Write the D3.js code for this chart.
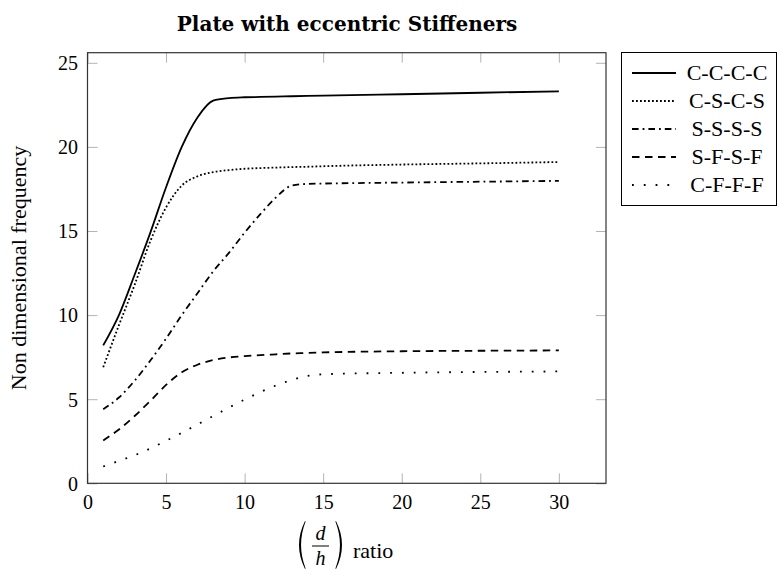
<!DOCTYPE html>
<html><head><meta charset="utf-8">
<script src="https://cdn.jsdelivr.net/npm/d3@7"></script>
<style>body{margin:0;background:#fff} svg{display:block}</style>
</head><body><svg id="c" width="778" height="580"></svg>
<script>
// ---- data ----
const xValues   = [1, 2, 3, 4, 5, 6, 7, 8, 9, 10, 11, 12, 13, 14, 15, 20, 25, 30];
const ccccValues = [8.2, 10.0, 12.4, 14.9, 17.6, 20.0, 21.75, 22.75, 22.9, 22.95, 22.97, 22.99, 23.01, 23.03, 23.05, 23.13, 23.22, 23.3];
const cscsValues = [6.9, 9.4, 11.8, 14.4, 16.4, 17.7, 18.25, 18.5, 18.62, 18.7, 18.74, 18.77, 18.8, 18.82, 18.85, 18.95, 19.02, 19.1];
const ssssValues = [4.4, 5.1, 6.1, 7.3, 8.6, 10.0, 11.3, 12.6, 13.7, 14.9, 16.0, 17.0, 17.7, 17.8, 17.82, 17.88, 17.93, 17.98];
const sfsfValues = [2.55, 3.2, 4.0, 4.9, 5.85, 6.6, 7.05, 7.33, 7.48, 7.56, 7.62, 7.67, 7.72, 7.75, 7.78, 7.85, 7.88, 7.9];
const cfffValues = [1.0, 1.33, 1.67, 2.07, 2.53, 3.0, 3.5, 4.0, 4.5, 4.98, 5.42, 5.82, 6.14, 6.38, 6.48, 6.57, 6.62, 6.65];
const seriesNames = ["C-C-C-C", "C-S-C-S", "S-S-S-S", "S-F-S-F", "C-F-F-F"];
const seriesValues = [ccccValues, cscsValues, ssssValues, sfsfValues, cfffValues];
const xTickValues = [0, 5, 10, 15, 20, 25, 30];
const yTickValues = [0, 5, 10, 15, 20, 25];
const titleText = "Plate with eccentric Stiffeners";
const yLabelText = "Non dimensional frequency";
const xLabelWord = "ratio";

// ---- styles ----
const dashStyles = ["none", "1.8,2.2", "6.6,4,1.8,4", "7.5,5.5", "1.8,10"];
const serif = "'Liberation Serif', 'Times New Roman', serif";

const svg = d3.select("#c");
const L = 87.5, R = 606, T = 52.7, B = 483.3;
const x = d3.scaleLinear().domain([0, 33]).range([L, R]);
const y = d3.scaleLinear().domain([0, 25.6]).range([B, T]);

// title
svg.append("text").attr("x", 347).attr("y", 31).attr("text-anchor", "middle")
  .style("font-family", "'DejaVu Serif', serif").style("font-weight", "bold").style("font-size", "20px")
  .text(titleText);

// axes (ticks inward, gray)
function styleAxis(g) {
  g.select(".domain").remove();
  g.selectAll(".tick line").attr("stroke", "#b3b3b3").attr("stroke-width", 1);
  g.selectAll(".tick text").style("font-family", serif).style("font-size", "20px").attr("fill", "#000");
}
const gx = svg.append("g").attr("transform", `translate(0,${B})`)
  .call(d3.axisBottom(x).tickValues(xTickValues).tickSize(-10).tickPadding(12).tickFormat(d3.format("d")));
styleAxis(gx);
const gxt = svg.append("g").attr("transform", `translate(0,${T})`)
  .call(d3.axisTop(x).tickValues(xTickValues).tickSize(-10).tickFormat(""));
styleAxis(gxt);
const gy = svg.append("g").attr("transform", `translate(${L},0)`)
  .call(d3.axisLeft(y).tickValues(yTickValues).tickSize(-10).tickPadding(9.5).tickFormat(d3.format("d")));
styleAxis(gy);
gy.selectAll(".tick text").attr("dy", "0.34em");
const gyr = svg.append("g").attr("transform", `translate(${R},0)`)
  .call(d3.axisRight(y).tickValues(yTickValues).tickSize(-10).tickFormat(""));
styleAxis(gyr);

// frame
svg.append("rect").attr("x", L).attr("y", T).attr("width", R - L).attr("height", B - T)
  .attr("fill", "none").attr("stroke", "#333").attr("stroke-width", 1.2);

// lines
const line = d3.line().x((d, i) => x(xValues[i])).y(d => y(d)).curve(d3.curveMonotoneX);
seriesValues.forEach((vals, k) => {
  svg.append("path").attr("d", line(vals)).attr("fill", "none").attr("stroke", "#000")
    .attr("stroke-width", 1.8).attr("stroke-dasharray", dashStyles[k]);
});

// legend
const lg = svg.append("g");
lg.append("rect").attr("x", 621.5).attr("y", 52.5).attr("width", 155).attr("height", 153)
  .attr("fill", "#fff").attr("stroke", "#000").attr("stroke-width", 1);
seriesNames.forEach((name, k) => {
  const ry = 73 + k * 28;
  lg.append("line").attr("x1", 632).attr("x2", 676).attr("y1", ry).attr("y2", ry)
    .attr("stroke", "#000").attr("stroke-width", 1.8).attr("stroke-dasharray", dashStyles[k]);
  lg.append("text").attr("x", 727).attr("y", ry + 7.3).attr("text-anchor", "middle")
    .style("font-family", serif).style("font-size", "22px").text(name);
});

// y label
svg.append("text").attr("transform", "translate(26,268) rotate(-90)").attr("text-anchor", "middle")
  .style("font-family", serif).style("font-size", "22px").text(yLabelText);

// x label: (d/h) ratio
const xl = svg.append("g").attr("transform", "translate(0,-12)");
xl.append("path").attr("d", "M305,533 Q293,557 305,581 L305.6,580.4 Q296.5,557 305.6,533.6 Z").attr("fill", "#000");
xl.append("path").attr("d", "M336,533 Q348,557 336,581 L335.4,580.4 Q344.5,557 335.4,533.6 Z").attr("fill", "#000");
xl.append("text").attr("x", 320.5).attr("y", 552).attr("text-anchor", "middle")
  .style("font-family", serif).style("font-style", "italic").style("font-size", "20px").text("d");
xl.append("line").attr("x1", 312).attr("x2", 329).attr("y1", 558).attr("y2", 558).attr("stroke", "#000").attr("stroke-width", 1);
xl.append("text").attr("x", 320.5).attr("y", 577).attr("text-anchor", "middle")
  .style("font-family", serif).style("font-style", "italic").style("font-size", "20px").text("h");
xl.append("text").attr("x", 353).attr("y", 569.5)
  .style("font-family", serif).style("font-size", "22px").text(xLabelWord);
</script>
</body></html>
